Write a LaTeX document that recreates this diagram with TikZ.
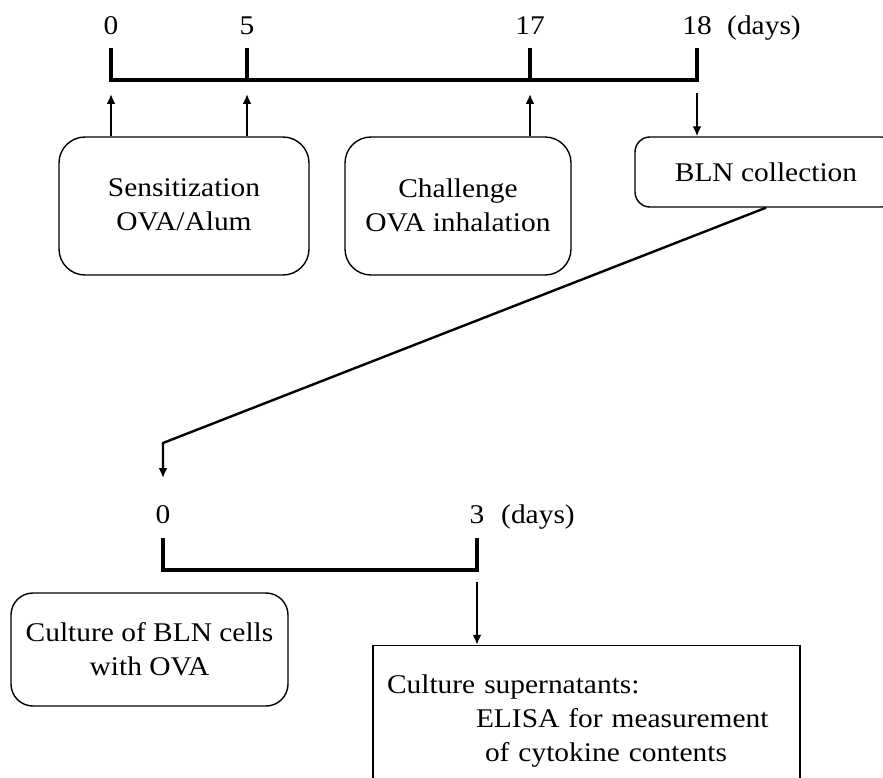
\documentclass[tikz,border=0pt]{standalone}
\usepackage{fontspec}
\setmainfont[FakeStretch=1.09]{Liberation Serif}
\usetikzlibrary{arrows.meta,positioning,calc}
\tikzset{>={Latex[length=10pt,width=9pt]}}

\begin{document}
\begin{tikzpicture}[x=1pt,y=-1pt,
    every node/.style={font=\fontsize{27}{34}\selectfont},
    roundbox/.style={draw,line width=1.4pt,rounded corners=26pt,align=center,inner sep=0pt},
    sqbox/.style={draw,line width=1.4pt,align=left,inner sep=0pt},
    tick/.style={anchor=base,inner sep=0pt},
    unit/.style={anchor=base west,inner sep=0pt},
    axis/.style={line width=4pt},
    link/.style={line width=2.4pt}]
  \useasboundingbox (0,0) rectangle (883,778);
  \clip (0,0) rectangle (883,778);

  % first timeline
  \coordinate (t0) at (111,48);
  \coordinate (t5) at (247,48);
  \coordinate (t17) at (530,48);
  \coordinate (t18) at (697,48);
  \draw[axis] (t0) -- (t0 |- 0,80) -- (t18 |- 0,80) -- (t18);
  \draw[axis] (t5) -- (t5 |- 0,80);
  \draw[axis] (t17) -- (t17 |- 0,80);
  \node[tick] (l0) at (111,35) {0};
  \node[tick] (l5) at (247,35) {5};
  \node[tick] (l17) at (530,35) {17};
  \node[tick] (l18) at (697,35) {18};
  \node[unit] (ldays) at (727,35) {(days)};

  % boxes
  \node[roundbox, minimum width=250, minimum height=138, text depth=2pt] (sens) at (184,206)
    {Sensitization\\OVA/Alum};
  \node[roundbox, minimum width=226, minimum height=138, text depth=2pt] (chal) at (458,206)
    {Challenge\\OVA inhalation};
  \node[roundbox, rounded corners=15pt, minimum width=262, minimum height=70] (bln) at (766,172)
    {BLN collection};

  % arrows to the timeline
  \coordinate (a0) at (111,94);
  \coordinate (a5) at (247,94);
  \coordinate (a17) at (530,94);
  \coordinate (a18) at (697,93);
  \draw[link,->] (sens.north -| a0) -- (a0);
  \draw[link,->] (sens.north -| a5) -- (a5);
  \draw[link,->] (chal.north -| a17) -- (a17);
  \draw[link,->] (a18) -- (bln.north -| a18);

  % second timeline
  \coordinate (bend) at (163,443);
  \coordinate (c0) at (163,478);
  \draw[link,->] (bln.south) -- (bend) -- (c0);
  \coordinate (s0) at (163,538);
  \coordinate (s3) at (477,538);
  \draw[axis] (s0) -- (s0 |- 0,570) -- (s3 |- 0,570) -- (s3);
  \node[tick] (m0) at (163,523) {0};
  \node[tick] (m3) at (477,523) {3};
  \node[unit] (mdays) at (501,523) {(days)};

  \node[roundbox, rounded corners=22pt, minimum width=277, minimum height=113] (cult) at (149.5,649.5)
    {Culture of BLN cells\\with OVA};
  \node[sqbox, minimum width=427, minimum height=151, text width=399pt, inner xsep=14pt] (elisa) at (586.5,721)
    {Culture supernatants:\\\hspace*{89pt}ELISA for measurement\\\hspace*{98pt}of cytokine contents};

  \coordinate (b3) at (477,582);
  \draw[link,->] (b3) -- (elisa.north -| b3);
\end{tikzpicture}
\end{document}
